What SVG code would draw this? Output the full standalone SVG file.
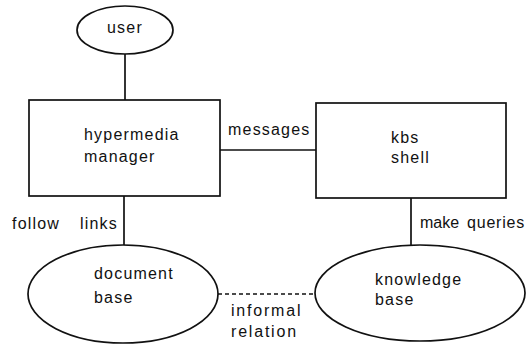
<svg xmlns="http://www.w3.org/2000/svg" width="528" height="346" viewBox="0 0 528 346">
<style>
.s{fill:none;stroke:#111;stroke-width:1.7}
.t{font-family:"Liberation Sans",Arial,sans-serif;font-size:16px;letter-spacing:1.2px;fill:#111}
.d{stroke-dasharray:4 3}
</style>
<rect width="528" height="346" fill="#fff"/>
<g id="connectors">
<line class="s" x1="125" y1="54" x2="125" y2="100"/>
<line class="s" x1="220" y1="150" x2="316" y2="150"/>
<line class="s" x1="124" y1="196" x2="124" y2="245"/>
<line class="s" x1="411" y1="198" x2="411" y2="246"/>
<line class="s d" x1="218" y1="294" x2="315" y2="294"/>
<text class="t" x="228" y="135">messages</text>
<text class="t" y="229"><tspan x="12">follow</tspan><tspan x="80">links</tspan></text>
<text class="t" y="228" style="letter-spacing:0.8px"><tspan x="420" style="letter-spacing:0">make</tspan><tspan x="467">queries</tspan></text>
<text class="t" x="231" y="316" style="letter-spacing:1.8px">informal</text>
<text class="t" x="231" y="337" style="letter-spacing:1.8px">relation</text>
</g>
<g id="user">
<ellipse class="s" cx="125" cy="30" rx="48" ry="24"/>
<text class="t" x="107" y="33">user</text>
</g>
<g id="hypermedia-manager">
<rect class="s" x="29" y="100" width="191" height="96"/>
<text class="t" x="84" y="140">hypermedia</text>
<text class="t" x="84" y="162">manager</text>
</g>
<g id="kbs-shell">
<rect class="s" x="316" y="103" width="190" height="95"/>
<text class="t" x="391" y="143">kbs</text>
<text class="t" x="391" y="163">shell</text>
</g>
<g id="document-base">
<ellipse class="s" cx="123" cy="294" rx="95" ry="49"/>
<text class="t" x="94" y="279">document</text>
<text class="t" x="94" y="303">base</text>
</g>
<g id="knowledge-base">
<ellipse class="s" cx="420" cy="293" rx="105" ry="48"/>
<text class="t" x="375" y="285">knowledge</text>
<text class="t" x="375" y="305">base</text>
</g>
</svg>
